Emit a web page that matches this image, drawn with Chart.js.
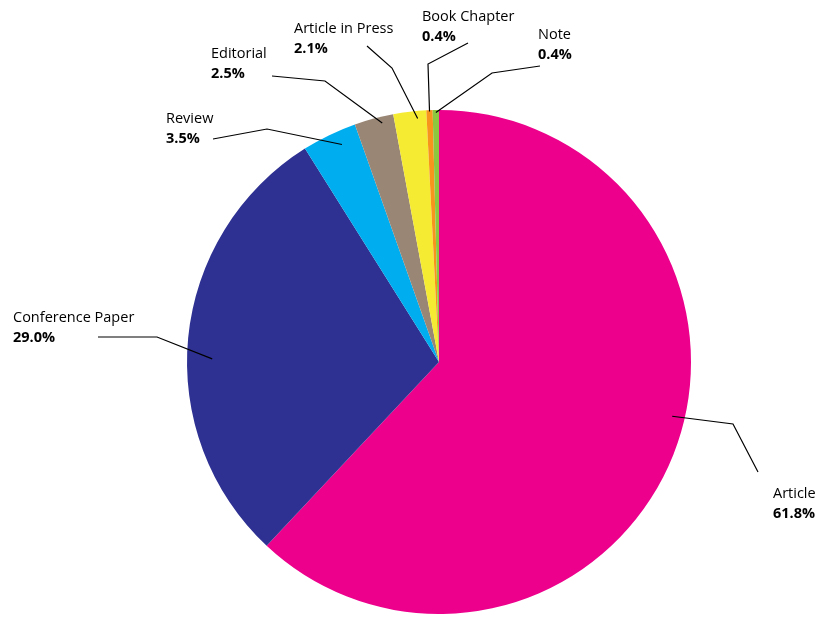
<!DOCTYPE html>
<html>
<head>
<meta charset="utf-8">
<script src="https://cdn.jsdelivr.net/npm/chart.js@4.4.1/dist/chart.umd.min.js"></script>
<style>
  html, body { margin: 0; padding: 0; background: #fff; overflow: hidden; }
</style>
</head>
<body>
<canvas id="pieChart" width="822" height="617"></canvas>
<script>
// Данные
const categories = ['Article', 'Conference Paper', 'Review', 'Editorial', 'Article in Press', 'Book Chapter', 'Note'];
const shares = [61.8, 29.0, 3.5, 2.5, 2.1, 0.4, 0.4];
const colors = ['#EC008C', '#2E3192', '#00AEEF', '#998675', '#F6EB33', '#F7941D', '#8DC63F'];

// Подписи: текст (x, базовая линия), излом и конец выноски
const labelLayout = [
  { tx: 773, ty: 498, elbow: [733, 424], end: [758, 472], r: 0.95,  shift: -0.038 },
  { tx: 13,  ty: 322, elbow: [157, 337], end: [98, 337],  r: 0.9,   shift: -0.045 },
  { tx: 166, ty: 123, elbow: [267, 129], end: [213, 139], r: 0.945, shift: 0.14 },
  { tx: 211, ty: 58,  elbow: [325, 81],  end: [272, 76],  r: 0.975, shift: 0.18 },
  { tx: 294, ty: 33,  elbow: [392, 68],  end: [367, 46],  r: 0.97,  shift: 0.22 },
  { tx: 422, ty: 21,  elbow: [428, 64],  end: [468, 43],  r: 0.995, shift: 0 },
  { tx: 538, ty: 39,  elbow: [492, 73],  end: [540, 66],  r: 0.99,  shift: 0 }
];

const FONT = '"Open Sans", "DejaVu Sans", sans-serif';

// Плагин выносок
const calloutPlugin = {
  id: 'callouts',
  afterDatasetsDraw(chart) {
    const ctx = chart.ctx;
    const arcs = chart.getDatasetMeta(0).data;
    ctx.save();
    arcs.forEach((arc, i) => {
      const lay = labelLayout[i];
      const p = arc.getProps(['x', 'y', 'startAngle', 'endAngle', 'outerRadius'], true);
      const span = p.endAngle - p.startAngle;
      const a = p.startAngle + span / 2 + lay.shift * span;
      const sx = p.x + Math.cos(a) * p.outerRadius * lay.r;
      const sy = p.y + Math.sin(a) * p.outerRadius * lay.r;

      ctx.strokeStyle = '#000';
      ctx.lineWidth = 1.2;
      ctx.beginPath();
      ctx.moveTo(sx, sy);
      ctx.lineTo(lay.elbow[0], lay.elbow[1]);
      ctx.lineTo(lay.end[0], lay.end[1]);
      ctx.stroke();

      ctx.fillStyle = '#000';
      ctx.textAlign = 'left';
      ctx.textBaseline = 'alphabetic';
      ctx.font = '14.5px ' + FONT;
      ctx.fillText(categories[i], lay.tx, lay.ty);
      ctx.font = 'bold 14.5px ' + FONT;
      ctx.fillText(shares[i].toFixed(1) + '%', lay.tx, lay.ty + 20);
    });
    ctx.restore();
  }
};

new Chart(document.getElementById('pieChart'), {
  type: 'pie',
  data: {
    labels: categories,
    datasets: [{
      data: shares,
      backgroundColor: colors,
      borderWidth: 0
    }]
  },
  options: {
    responsive: false,
    animation: false,
    devicePixelRatio: 1,
    layout: { padding: { top: 110, bottom: 3, left: 187, right: 131 } },
    plugins: {
      legend: { display: false },
      tooltip: { enabled: false }
    }
  },
  plugins: [calloutPlugin]
});
</script>
</body>
</html>
